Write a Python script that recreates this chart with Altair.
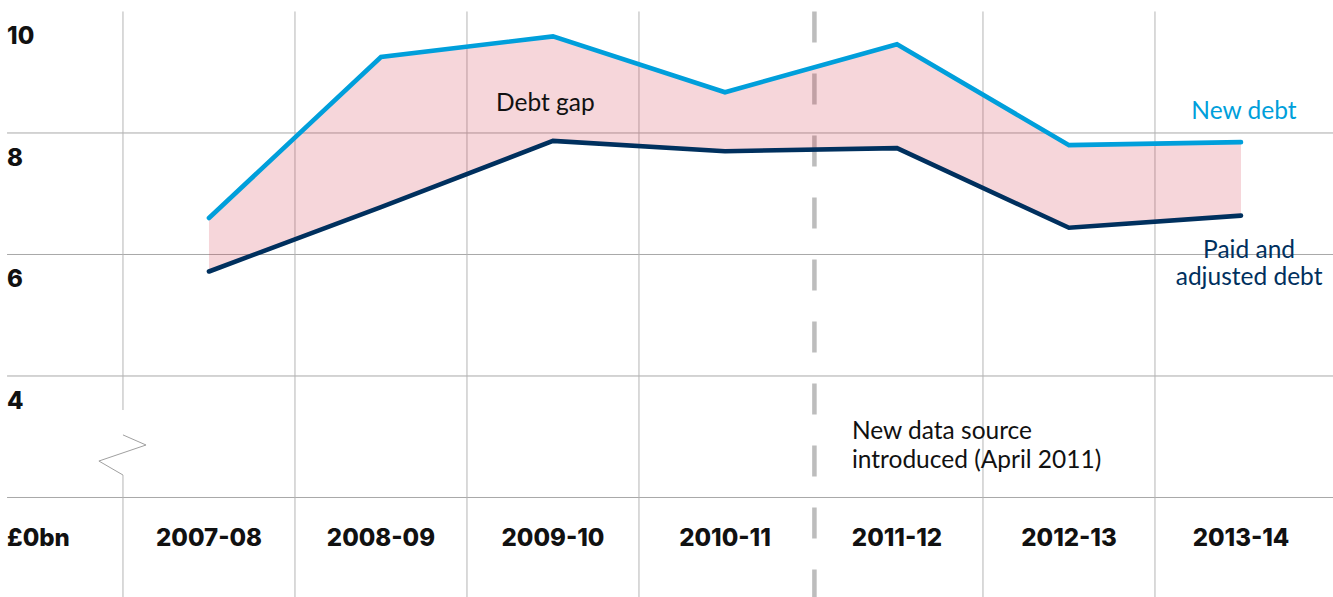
import altair as alt
import pandas as pd

# ---------------- data ----------------
years = ["2007-08", "2008-09", "2009-10", "2010-11", "2011-12", "2012-13", "2013-14"]
new_debt = [6.60, 9.25, 9.59, 8.67, 9.46, 7.80, 7.85]
paid_debt = [5.72, 6.78, 7.87, 7.70, 7.75, 6.44, 6.64]

y_tick_values = [10, 8, 6, 4]
y_tick_labels = ["10", "8", "6", "4"]
zero_label = "£0bn"
zero_drawn_at = 2  # broken axis: £0bn sits where 2 would be

grid_values = [8, 6, 4, 2]
data_source_change = 3.52  # April 2011, between 2010-11 and 2011-12

# ---------------- layout helpers ----------------
W, H = 1333, 597
X_DOMAIN = [-1.215, 6.535]
Y_DOMAIN = [0.362, 10.189]
X_LEFT = -1.174
TOP = 10

BLUE = "#009FDB"
NAVY = "#00305E"
FONT_B = "Inter"
FONT_R = "Lato"
BOLD_W = 800
BOLD_SIZE = 24

xs = alt.Scale(domain=X_DOMAIN, nice=False, zero=False)
ys = alt.Scale(domain=Y_DOMAIN, nice=False, zero=False)

df = pd.DataFrame({
    "year": years,
    "i": list(range(len(years))),
    "new": new_debt,
    "paid": paid_debt,
    "yy": zero_drawn_at,
})

# horizontal gridlines
hgrid_df = pd.DataFrame({"v": grid_values, "x": X_LEFT, "x2": X_DOMAIN[1]})
hgrid = alt.Chart(hgrid_df).mark_rule(color="#a8a8a8", strokeWidth=1).encode(
    y=alt.Y("v:Q", scale=ys, axis=None),
    x=alt.X("x:Q", scale=xs, axis=None),
    x2="x2:Q",
)

# vertical band separators (first one broken for the axis break)
break_top, break_bottom = 3.44, 2.37
vsep_rows = [{"x": -0.5, "y": TOP, "y2": break_top},
             {"x": -0.5, "y": break_bottom, "y2": Y_DOMAIN[0]}]
for b in [0.5, 1.5, 2.5, 4.5, 5.5]:
    vsep_rows.append({"x": b, "y": TOP, "y2": Y_DOMAIN[0]})
vsep = alt.Chart(pd.DataFrame(vsep_rows)).mark_rule(color="#b4b4b4", strokeWidth=1).encode(
    x=alt.X("x:Q", scale=xs, axis=None),
    y=alt.Y("y:Q", scale=ys, axis=None),
    y2="y2:Q",
)

# zigzag axis-break symbol
zig_x = [-0.5, -0.366, -0.64, -0.5]
zig_y = [3.03, 2.864, 2.60, 2.37]
zig_df = pd.DataFrame({"x": zig_x, "y": zig_y, "o": range(len(zig_x))})
zig = alt.Chart(zig_df).mark_line(color="#a0a0a0", strokeWidth=1).encode(
    x=alt.X("x:Q", scale=xs, axis=None),
    y=alt.Y("y:Q", scale=ys, axis=None),
    order="o:Q",
)

# dashed "new data source" line
dash_df = pd.DataFrame({"x": [data_source_change], "y": [TOP], "y2": [Y_DOMAIN[0]]})
dash = alt.Chart(dash_df).mark_rule(color="#bdbdbd", strokeWidth=4.5, strokeDash=[31, 31]).encode(
    x=alt.X("x:Q", scale=xs, axis=None),
    y=alt.Y("y:Q", scale=ys, axis=None),
    y2="y2:Q",
)

# debt gap area
area = alt.Chart(df).mark_area(color="#D23246", opacity=0.2).encode(
    x=alt.X("i:Q", scale=xs, axis=None),
    y=alt.Y("new:Q", scale=ys, axis=None),
    y2="paid:Q",
)

line_new = alt.Chart(df).mark_line(color=BLUE, strokeWidth=4.6, strokeCap="round").encode(
    x=alt.X("i:Q", scale=xs, axis=None),
    y=alt.Y("new:Q", scale=ys, axis=None),
)
line_paid = alt.Chart(df).mark_line(color=NAVY, strokeWidth=4.6, strokeCap="round").encode(
    x=alt.X("i:Q", scale=xs, axis=None),
    y=alt.Y("paid:Q", scale=ys, axis=None),
)

# x labels
xlab = alt.Chart(df).mark_text(font=FONT_B, fontWeight=BOLD_W, fontSize=BOLD_SIZE, color="#111111",
                               align="center", baseline="alphabetic", dy=48.5).encode(
    x=alt.X("i:Q", scale=xs, axis=None),
    y=alt.Y("yy:Q", scale=ys, axis=None),
    text="year:N",
)

# y labels
ylab_df = pd.DataFrame({"v": y_tick_values, "t": y_tick_labels, "x": X_LEFT})
ylab = alt.Chart(ylab_df).mark_text(font=FONT_B, fontWeight=BOLD_W, fontSize=BOLD_SIZE, color="#111111",
                                    align="left", baseline="alphabetic", dy=33).encode(
    x=alt.X("x:Q", scale=xs, axis=None),
    y=alt.Y("v:Q", scale=ys, axis=None),
    text="t:N",
)
zlab_df = pd.DataFrame({"v": [zero_drawn_at], "t": [zero_label], "x": [X_LEFT]})
zlab = alt.Chart(zlab_df).mark_text(font=FONT_B, fontWeight=BOLD_W, fontSize=BOLD_SIZE, color="#111111",
                                    align="left", baseline="alphabetic", dy=48.5).encode(
    x=alt.X("x:Q", scale=xs, axis=None),
    y=alt.Y("v:Q", scale=ys, axis=None),
    text="t:N",
)

# annotations
ann_text = ["Debt gap", "New debt", "Paid and", "adjusted debt",
            "New data source", "introduced (April 2011)"]
ann_x = [1.669, 6.017, 6.047, 6.047, 3.738, 3.738]
ann_y = [8.362, 8.23, 5.942, 5.497, 2.963, 2.486]
ann_align = ["left", "center", "center", "center", "left", "left"]
ann_color = ["#111111", BLUE, NAVY, NAVY, "#111111", "#111111"]
ann_df = pd.DataFrame({"t": ann_text, "x": ann_x, "y": ann_y, "a": ann_align, "c": ann_color})

ann_layers = []
for a in ["left", "center"]:
    ann_layers.append(
        alt.Chart(ann_df[ann_df["a"] == a]).mark_text(
            font=FONT_R, fontSize=24.5, align=a, baseline="alphabetic").encode(
            x=alt.X("x:Q", scale=xs, axis=None),
            y=alt.Y("y:Q", scale=ys, axis=None),
            text="t:N",
            color=alt.Color("c:N", scale=None),
        )
    )

chart = alt.layer(
    hgrid, vsep, zig, dash, area, line_paid, line_new, xlab, ylab, zlab, *ann_layers
).properties(
    width=W, height=H, padding=0, autosize=alt.AutoSizeParams(type="none"),
    background="white",
).configure_view(stroke=None)

chart.save("out.html", embed_options={"renderer": "svg", "actions": False})
